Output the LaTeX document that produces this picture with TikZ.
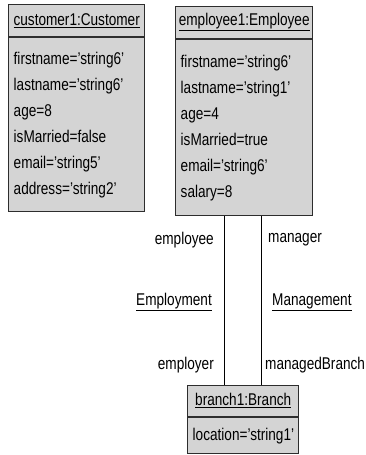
\documentclass[tikz,border=0pt]{standalone}
\usepackage{fontspec}
\setmainfont[FakeStretch=0.8]{Liberation Sans}
\usetikzlibrary{positioning}
\definecolor{BoxGray}{RGB}{212,212,212}
\definecolor{BoxEdge}{RGB}{45,45,45}

\begin{document}
\begin{tikzpicture}[x=1pt, y=-1pt,
    objhead/.style={draw=BoxEdge, fill=BoxGray, line width=1.4pt, inner sep=0pt,
      font=\fontsize{17}{20}\selectfont},
    objbody/.style={draw=BoxEdge, fill=BoxGray, line width=1.4pt, inner sep=5pt,
      align=left, font=\fontsize{17}{26}\selectfont},
    role/.style={inner sep=0pt, font=\fontsize{17}{20}\selectfont},
    link/.style={draw=black, line width=0.8pt}]
  \useasboundingbox (0,0) rectangle (366,455);

  % Customer object
  \node[objhead, anchor=south west, minimum width=136pt, minimum height=32pt] (custhead) at (8,37)
    {\underline{customer1:Customer}};
  \node[objbody, anchor=north west, minimum width=136pt, minimum height=174pt, text width=126pt] (custbody) at (8,37)
    {firstname='string6'\\ lastname='string6'\\ age=8\\ isMarried=false\\ email='string5'\\ address='string2'};

  % Employee object
  \node[objhead, anchor=south west, minimum width=137pt, minimum height=32pt] (emphead) at (175,39)
    {\underline{employee1:Employee}};
  \node[objbody, anchor=north west, minimum width=137pt, minimum height=176pt, text width=127pt] (empbody) at (175,39)
    {firstname='string6'\\ lastname='string1'\\ age=4\\ isMarried=true\\ email='string6'\\ salary=8};

  % Branch object
  \node[objhead, anchor=south west, minimum width=111pt, minimum height=31pt] (brhead) at (187,417)
    {\underline{branch1:Branch}};
  \node[objbody, anchor=north west, minimum width=111pt, minimum height=36pt, text width=101pt] (brbody) at (187,417)
    {location='string1'};

  % Links
  \path (brhead.north) ++(-18.5,0) coordinate (employer);
  \path (brhead.north) ++(18.5,0) coordinate (managed);
  \draw[link] (employer) -- (employer |- empbody.south);
  \draw[link] (managed) -- (managed |- empbody.south);

  % Role and link names
  \node[role, anchor=east] (rEmployee) at (214,240) {employee};
  \node[role, anchor=west] (rManager) at (268,240) {manager};
  \node[role, anchor=east] (lEmployment) at (212,302) {\underline{Employment}};
  \node[role, anchor=west] (lManagement) at (272,302) {\underline{Management}};
  \node[role, anchor=east] (rEmployer) at (214,365) {employer};
  \node[role, anchor=west] (rManaged) at (265,365) {managedBranch};
\end{tikzpicture}
\end{document}
